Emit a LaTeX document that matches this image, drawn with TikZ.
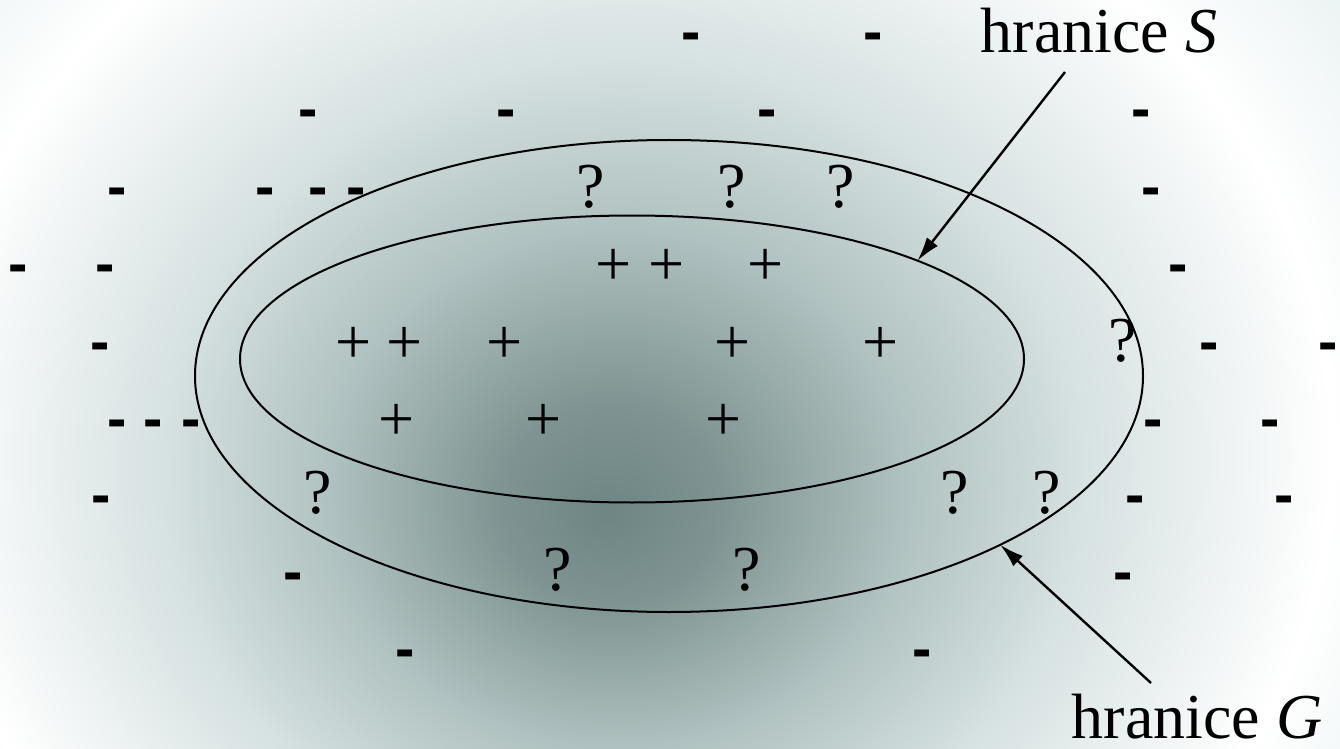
\documentclass[tikz,border=0pt]{standalone}
\usepackage{fontspec}
\setmainfont{Liberation Serif}
\newfontfamily\minusfont{Liberation Sans}
\usetikzlibrary{shapes.geometric,arrows.meta}
\definecolor{bgA}{HTML}{6E8583}
\definecolor{bgB}{HTML}{7F9492}
\definecolor{bgC}{HTML}{B0C2C1}
\definecolor{bgD}{HTML}{D6E1E1}
\definecolor{bgE}{HTML}{E8F1F1}
\definecolor{bgF}{HTML}{DCEAEB}
\pgfdeclareradialshading{bgshade}{\pgfpoint{-1.61bp}{-5.19bp}}{%
  color(0bp)=(bgA); color(2.1bp)=(bgB); color(5.6bp)=(bgC); color(8.8bp)=(bgD);
  color(13.5bp)=(white); color(17bp)=(bgE); color(22bp)=(bgF); color(50bp)=(bgF)}
\begin{document}
\begin{tikzpicture}[x=0.5pt,y=-0.5pt,
  lbl/.style={font=\fontsize{32}{38}\selectfont, inner sep=0pt, anchor=base},
  sym/.style={font=\fontsize{32}{38}\selectfont, inner sep=0pt},
  mns/.style={font=\minusfont\bfseries\fontsize{29}{34}\selectfont, inner sep=0pt, anchor=base, yshift=-7.5pt},
  bound/.style={ellipse, draw, line width=1pt, inner sep=0pt, outer sep=0pt},
  arr/.style={line width=1.2pt, -{Latex[length=12pt,width=7pt]}}]
\useasboundingbox (0,0) rectangle (1340,749);
\begin{scope}
  \clip (0,0) rectangle (1340,749);
  \shade[shading=bgshade] (691,271) ellipse [x radius=1300, y radius=1174];
\end{scope}
% boundaries
\node[bound, minimum width=474pt, minimum height=236pt] (G) at (669,376) {};
\node[bound, minimum width=392pt, minimum height=143.5pt] (S) at (632,359) {};
% minus signs
\foreach \x/\y [count=\i] in {691/37,873/37,
  308/114,506/114,767/114,1141/114,
  117/191,265/191,318/191,356/191,1151/191,
  18/269,105/269,1178/269,
  100/346,1209/346,1328/346,
  117/423,153/423,191/423,1153/423,1270/423,
  101/499,1135/499,1284/499,
  293/576,1123/576,
  405/653,922/653}
  \node[mns] (m\i) at (\x,\y) {-};
% plus signs
\foreach \x/\y [count=\i] in {614/267,667/267,766/267,
  354/345,405/345,505/345,733/345,881/345,
  397/422,544/422,724/422}
  \node[sym] (p\i) at (\x,\y) {+};
% question marks
\foreach \x/\y [count=\i] in {591/187,732/187,841/187,1123/341,
  318/493,955/493,1047/493,558/570,747/570}
  \node[sym] (q\i) at (\x,\y) {?};
% labels and arrows
\node[lbl] (labS) at (1099,53) {hranice \textit{S}};
\node[lbl] (labG) at (1197,738) {hranice \textit{G}};
\coordinate (aS) at (1065,72);
\coordinate (aG) at (1151,683);
\draw[arr] (aS) -- (S.19.5);
\draw[arr] (aG) -- (G.-27.4);
\end{tikzpicture}
\end{document}
